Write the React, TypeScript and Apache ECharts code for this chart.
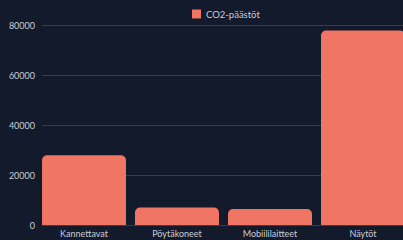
import React, { useEffect, useRef } from "react";
import * as echarts from "echarts";

const categories = ["Kannettavat", "Pöytäkoneet", "Mobiililaitteet", "Näytöt"];
const co2Values = [28000, 7000, 6400, 78000];
const seriesName = "CO2-päästöt";
const yMin = 0;
const yMax = 80000;
const yInterval = 20000;

const FONT = "Lato, 'Noto Sans', sans-serif";
const TEXT_COLOR = "#c9cdd6";
const BAR_COLOR = "#f07564";
const GRID_COLOR = "#363d4d";

export default function App() {
  const ref = useRef<HTMLDivElement>(null);
  useEffect(() => {
    if (!ref.current) return;
    const chart = echarts.init(ref.current, null, { renderer: "svg" });
    chart.setOption({
      animation: false,
      backgroundColor: "#131a2b",
      textStyle: { fontFamily: FONT },
      legend: {
        data: [seriesName],
        left: 192,
        top: 9,
        padding: 0,
        icon: "rect",
        itemWidth: 9,
        itemHeight: 9,
        textStyle: { color: TEXT_COLOR, fontSize: 9.5, fontFamily: FONT },
      },
      grid: [
        { left: 37.5, right: 0.5, top: 25.5, bottom: 15 },
        { left: 42, right: 0, top: 25.5, bottom: 15 },
      ],
      xAxis: [
        {
          type: "category",
          gridIndex: 0,
          data: categories,
          axisLine: { show: false },
          axisTick: { show: false },
          axisLabel: { color: TEXT_COLOR, fontSize: 9, margin: 3.5, fontFamily: FONT },
        },
        {
          type: "category",
          gridIndex: 1,
          data: categories,
          show: false,
        },
      ],
      yAxis: [
        {
          type: "value",
          gridIndex: 0,
          min: yMin,
          max: yMax,
          interval: yInterval,
          show: false,
          splitLine: { show: false },
        },
        {
          type: "value",
          gridIndex: 1,
          min: yMin,
          max: yMax,
          interval: yInterval,
          axisLine: { show: false },
          axisTick: { show: false },
          axisLabel: {
            color: TEXT_COLOR,
            fontSize: 9,
            margin: 7,
            fontFamily: FONT,
            formatter: (v: number) => String(v),
          },
          splitLine: { lineStyle: { color: GRID_COLOR, width: 1 } },
        },
      ],
      series: [
        {
          name: seriesName,
          type: "bar",
          xAxisIndex: 0,
          yAxisIndex: 0,
          data: co2Values,
          barCategoryGap: "9.7%",
          itemStyle: { color: BAR_COLOR, borderRadius: [5, 5, 0, 0] },
        },
      ],
    });
    return () => chart.dispose();
  }, []);
  return (
    <div style={{ position: "absolute", left: 0, top: 0, width: 403, height: 240, overflow: "hidden" }}>
      <div ref={ref} style={{ width: 410, height: 240 }} />
    </div>
  );
}
